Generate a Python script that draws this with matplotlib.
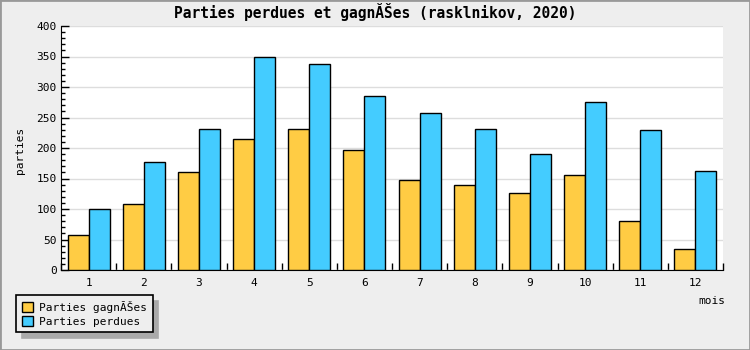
import numpy as np
import matplotlib.pyplot as plt
from matplotlib.patches import Patch, Rectangle
from matplotlib.ticker import MultipleLocator

mois = ['1', '2', '3', '4', '5', '6', '7', '8', '9', '10', '11', '12']
gagnees = [58, 108, 160, 214, 231, 196, 147, 139, 127, 155, 81, 34]
perdues = [100, 177, 231, 350, 337, 286, 257, 231, 190, 275, 229, 163]

orange = '#FFCC44'
bleu = '#44CCFF'
mono = 'DejaVu Sans Mono'

fig = plt.figure(figsize=(7.5, 3.5), dpi=100, facecolor='#EEEEEE')
fig.patches.append(Rectangle((0, 0), 1, 1, transform=fig.transFigure,
                             fill=False, edgecolor='#999999', linewidth=2))

ax = fig.add_axes([61 / 750, 80 / 350, 662 / 750, 244 / 350])
x = np.arange(1, len(mois) + 1)
w = 0.38
ax.bar(x - w / 2, gagnees, w, color=orange, edgecolor='black', linewidth=1, zorder=3)
ax.bar(x + w / 2, perdues, w, color=bleu, edgecolor='black', linewidth=1, zorder=3)

ax.set_xlim(0.5, 12.5)
ax.set_ylim(0, 400)
ax.yaxis.set_major_locator(MultipleLocator(50))
ax.yaxis.set_minor_locator(MultipleLocator(10))
ax.set_xticks(x)
ax.set_xticklabels(mois, family=mono, fontsize=8)
ax.set_xticks(np.arange(0.5, 13, 1), minor=True)
ax.tick_params(axis='x', which='major', length=0, pad=6)
ax.tick_params(axis='x', which='minor', direction='in', length=5, width=1)
ax.tick_params(axis='y', which='major', direction='in', length=6, width=1, labelsize=8, pad=3)
ax.tick_params(axis='y', which='minor', direction='in', length=3, width=1)
for lbl in ax.get_yticklabels():
    lbl.set_family(mono)

ax.grid(axis='y', color='#DDDDDD', linewidth=1, zorder=0)
ax.spines['top'].set_visible(False)
ax.spines['right'].set_visible(False)

fig.text(20 / 750, 1 - 150 / 350, 'parties', rotation=90, ha='center', va='center',
         family=mono, fontsize=8)
fig.text(712 / 750, 1 - 301 / 350, 'mois', ha='center', va='center', family=mono, fontsize=8)
fig.text(0.5, 1 - 12 / 350, 'Parties perdues et gagnĂŠes (rasklnikov, 2020)', ha='center',
         va='center', family=mono, fontsize=10.5, fontweight='bold')

handles = [Patch(facecolor=orange, edgecolor='black', label='Parties gagnĂŠes'),
           Patch(facecolor=bleu, edgecolor='black', label='Parties perdues')]
leg = ax.legend(handles=handles, loc='upper left', bbox_to_anchor=(16 / 750, 1 - 295 / 350),
                bbox_transform=fig.transFigure, borderaxespad=0, fancybox=False,
                facecolor='#EEEEEE', edgecolor='black', framealpha=1,
                prop={'family': mono, 'size': 8}, handlelength=1.0, handleheight=1.0,
                handletextpad=0.6, labelspacing=0.3, borderpad=0.5,
                shadow={'ox': 4, 'oy': -4, 'facecolor': '#AAAAAA', 'edgecolor': '#AAAAAA', 'alpha': 1})
leg.get_frame().set_linewidth(1.2)

plt.savefig('out.png', facecolor=fig.get_facecolor())
